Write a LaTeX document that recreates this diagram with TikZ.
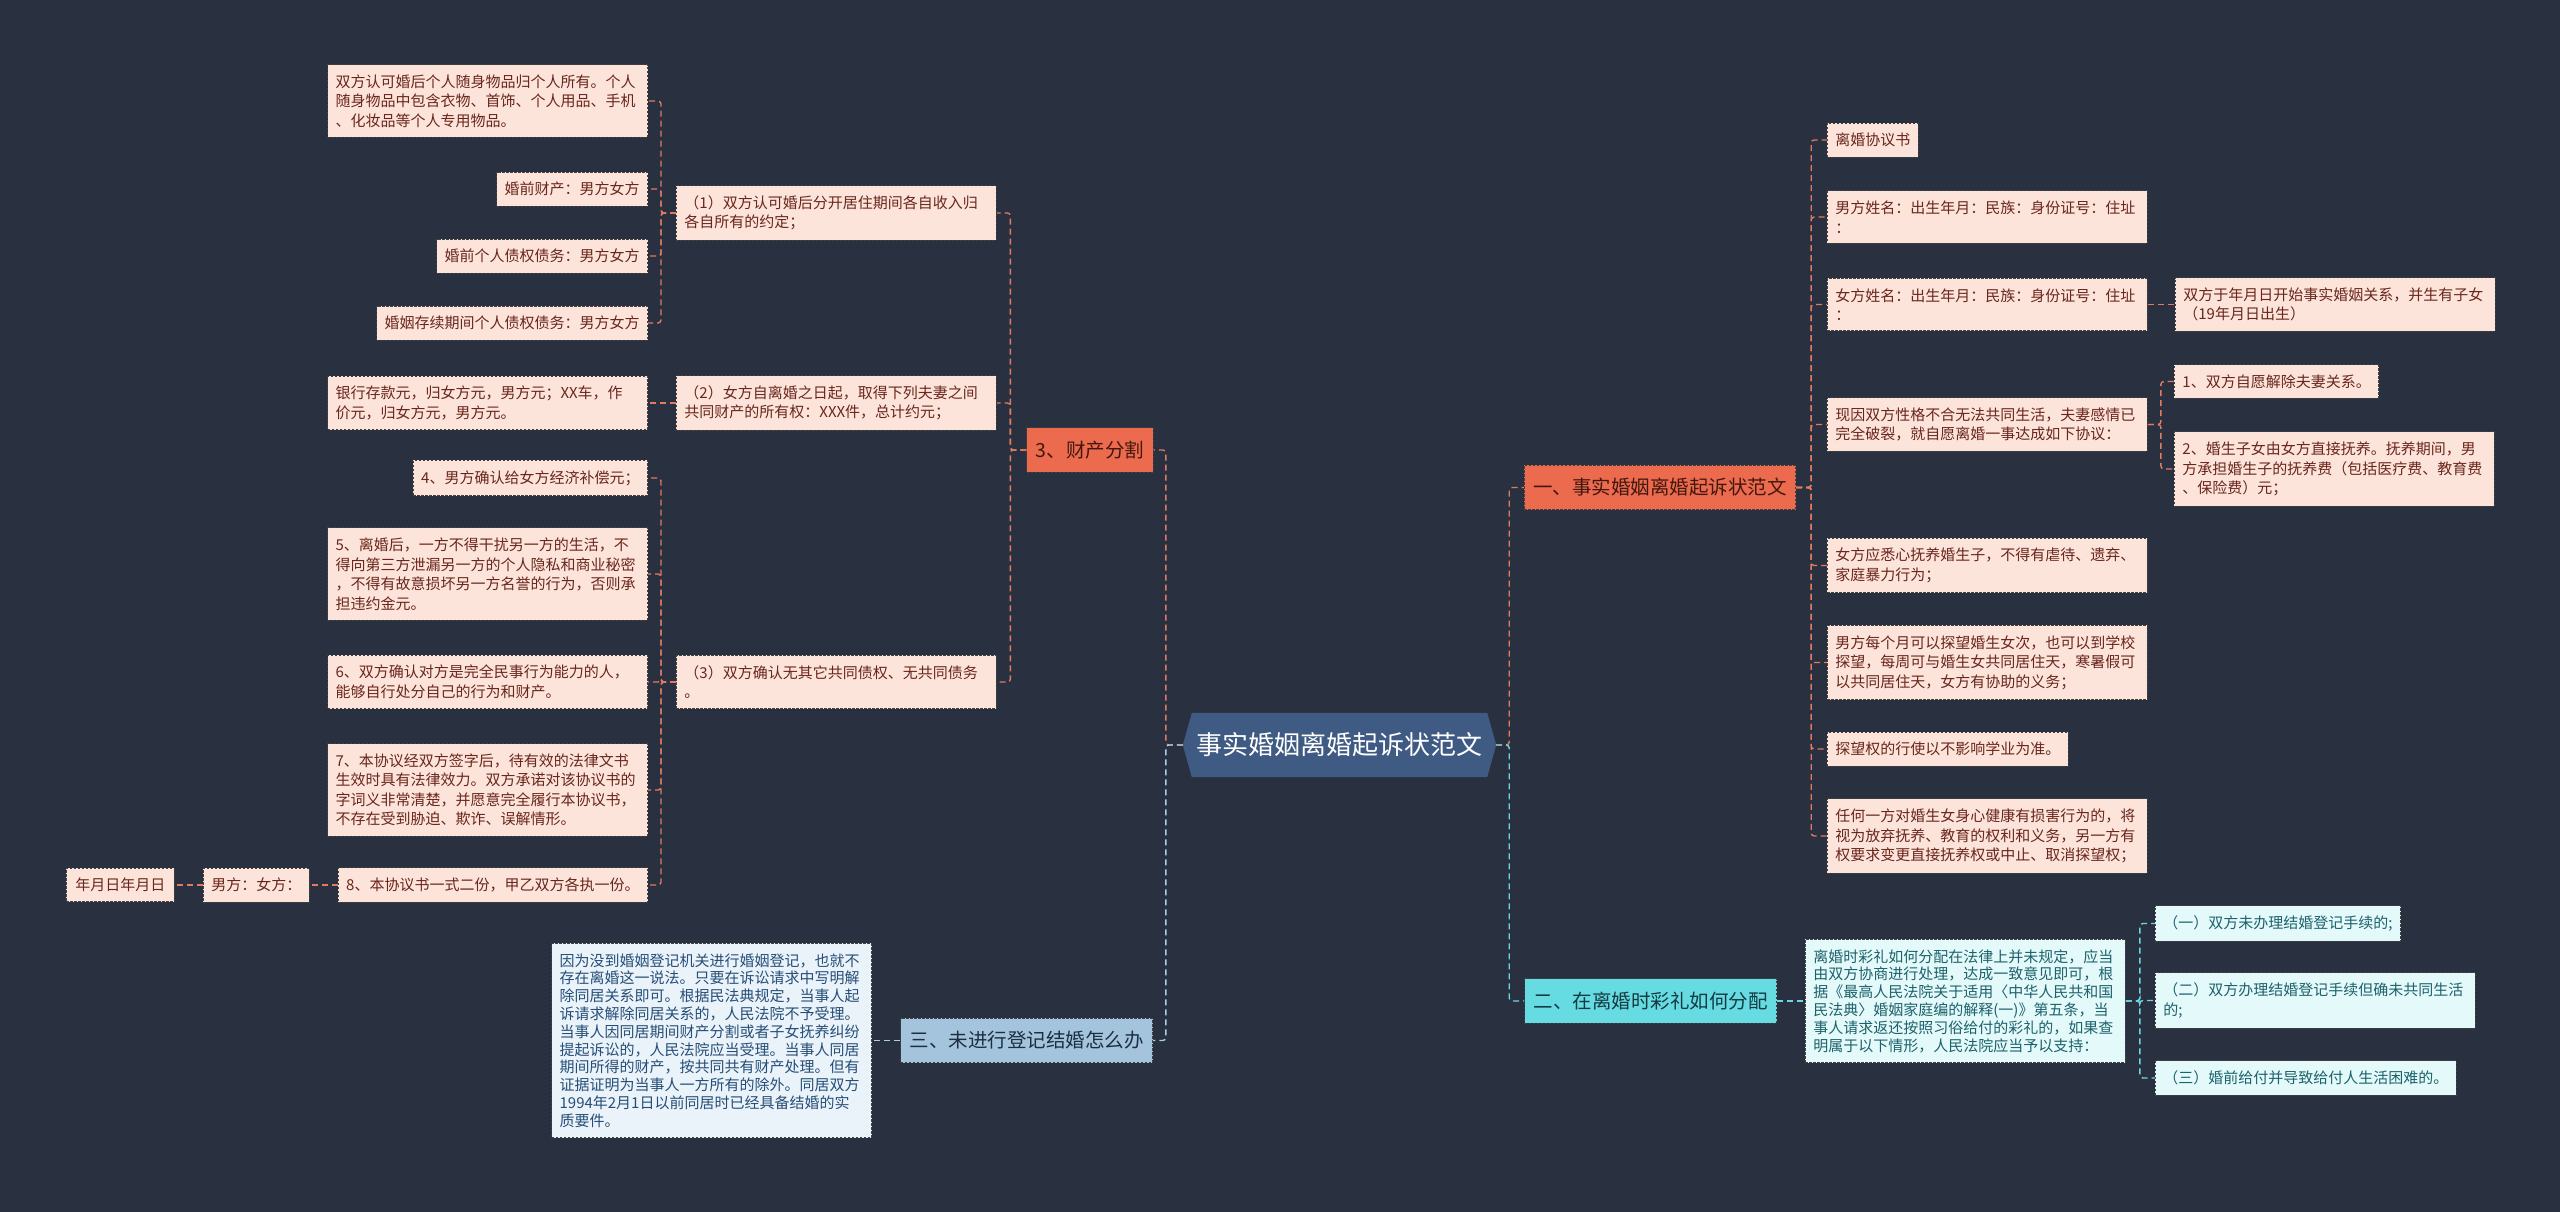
\documentclass[tikz,border=0pt]{standalone}
\usepackage{fontspec}
\setmainfont{Noto Sans CJK SC}
\usetikzlibrary{positioning,backgrounds}

\definecolor{bgnavy}{RGB}{41,49,65}
\definecolor{rootblue}{RGB}{63,91,131}
\definecolor{orfill}{RGB}{236,106,78}
\definecolor{orleaf}{RGB}{253,228,219}
\definecolor{ortext}{RGB}{105,38,28}
\definecolor{orhead}{RGB}{66,24,14}
\definecolor{orline}{RGB}{226,122,96}
\definecolor{cyfill}{RGB}{102,219,226}
\definecolor{cyleaf}{RGB}{228,249,249}
\definecolor{cytext}{RGB}{28,98,108}
\definecolor{cyhead}{RGB}{20,58,66}
\definecolor{cyline}{RGB}{108,214,228}
\definecolor{blfill}{RGB}{163,196,220}
\definecolor{blleaf}{RGB}{234,243,250}
\definecolor{bltext}{RGB}{38,78,118}
\definecolor{blhead}{RGB}{28,46,66}
\definecolor{blline}{RGB}{168,206,232}

\tikzset{
  box/.style={draw=black!75, line width=0.9pt, dash pattern=on 2.5pt off 1.5pt,
    inner xsep=8pt, inner ysep=10pt, align=left,
    font=\fontsize{15}{19.5}\selectfont},
  wide/.style={text width=304pt},
  orleafbox/.style={box, fill=orleaf, text=ortext},
  cyleafbox/.style={box, fill=cyleaf, text=cytext, font=\fontsize{15}{17.8}\selectfont},
  blleafbox/.style={box, fill=blleaf, text=bltext, font=\fontsize{15}{17.8}\selectfont},
  branch/.style={draw=black!75, line width=0.9pt, dash pattern=on 2.5pt off 1.5pt,
    inner xsep=9pt, inner ysep=13pt, font=\fontsize{19.5}{23}\selectfont},
  link/.style={line width=1.4pt, dash pattern=on 6pt off 4pt, rounded corners=3pt},
  orlink/.style={link, draw=orline},
  cylink/.style={link, draw=cyline},
  bllink/.style={link, draw=blline}
}

\begin{document}
\begin{tikzpicture}[x=1pt, y=-1pt]
\useasboundingbox (0,0) rectangle (2560,1212);

% root
\node[minimum width=295pt, minimum height=64pt, inner sep=0pt, text=white,
      font=\fontsize{26}{30}\selectfont] (ctr) at (1339.5,745) {事实婚姻离婚起诉状范文};

\begin{scope}[on background layer]
  \fill[bgnavy] (0,0) rectangle (2560,1212);
  \fill[rootblue] (ctr.north west) -- (ctr.north east) -- ([xshift=9pt]ctr.east)
    -- (ctr.south east) -- (ctr.south west) -- ([xshift=-9pt]ctr.west) -- cycle;
\end{scope}

% main branches
\node[branch, fill=orfill, text=orhead] (prop) at (1090,450) {3、财产分割};
\node[branch, fill=blfill, text=blhead] (unreg) at (1026.5,1040.5) {三、未进行登记结婚怎么办};
\node[branch, fill=orfill, text=orhead] (suit) at (1660,487.5) {一、事实婚姻离婚起诉状范文};
\node[branch, fill=cyfill, text=cyhead] (gift) at (1650.5,1001) {二、在离婚时彩礼如何分配};

% 3、财产分割
\node[orleafbox, wide, anchor=west] (agr1) at (676,213)
  {（1）双方认可婚后分开居住期间各自收入归\\各自所有的约定；};
\node[orleafbox, wide, anchor=west] (agr2) at (676,403)
  {（2）女方自离婚之日起，取得下列夫妻之间\\共同财产的所有权：XXX件，总计约元；};
\node[orleafbox, wide, anchor=west] (agr3) at (676,682)
  {（3）双方确认无其它共同债权、无共同债务\\。};

\node[orleafbox, wide, anchor=east] (own) at (648,101)
  {双方认可婚后个人随身物品归个人所有。个人\\随身物品中包含衣物、首饰、个人用品、手机\\、化妆品等个人专用物品。};
\node[orleafbox, anchor=east] (pre) at (648,189) {婚前财产：男方女方};
\node[orleafbox, anchor=east] (predebt) at (648,256) {婚前个人债权债务：男方女方};
\node[orleafbox, anchor=east] (mardebt) at (648,323) {婚姻存续期间个人债权债务：男方女方};
\node[orleafbox, wide, anchor=east] (bank) at (648,403)
  {银行存款元，归女方元，男方元；XX车，作\\价元，归女方元，男方元。};
\node[orleafbox, anchor=east] (item4) at (648,478) {4、男方确认给女方经济补偿元；};
\node[orleafbox, wide, anchor=east] (item5) at (648,574)
  {5、离婚后，一方不得干扰另一方的生活，不\\得向第三方泄漏另一方的个人隐私和商业秘密\\，不得有故意损坏另一方名誉的行为，否则承\\担违约金元。};
\node[orleafbox, wide, anchor=east] (item6) at (648,682)
  {6、双方确认对方是完全民事行为能力的人，\\能够自行处分自己的行为和财产。};
\node[orleafbox, wide, anchor=east] (item7) at (648,790)
  {7、本协议经双方签字后，待有效的法律文书\\生效时具有法律效力。双方承诺对该协议书的\\字词义非常清楚，并愿意完全履行本协议书，\\不存在受到胁迫、欺诈、误解情形。};
\node[orleafbox, anchor=east] (item8) at (648,885)
  {8、本协议书一式二份，甲乙双方各执一份。};
\node[orleafbox, left=28pt of item8] (sign) {男方：女方：};
\node[orleafbox, left=28pt of sign, inner xsep=9pt] (date) {年月日年月日};

% 三、未进行登记结婚怎么办
\node[blleafbox, wide, left=28pt of unreg] (cohab)
  {因为没到婚姻登记机关进行婚姻登记，也就不\\存在离婚这一说法。只要在诉讼请求中写明解\\除同居关系即可。根据民法典规定，当事人起\\诉请求解除同居关系的，人民法院不予受理。\\当事人因同居期间财产分割或者子女抚养纠纷\\提起诉讼的，人民法院应当受理。当事人同居\\期间所得的财产，按共同共有财产处理。但有\\证据证明为当事人一方所有的除外。同居双方\\1994年2月1日以前同居时已经具备结婚的实\\质要件。};

% 一、事实婚姻离婚起诉状范文
\node[orleafbox, anchor=west] (title) at (1827,140) {离婚协议书};
\node[orleafbox, wide, anchor=west] (man) at (1827,217)
  {男方姓名：出生年月：民族：身份证号：住址\\：};
\node[orleafbox, wide, anchor=west] (woman) at (1827,304.5)
  {女方姓名：出生年月：民族：身份证号：住址\\：};
\node[orleafbox, wide, right=27pt of woman] (since)
  {双方于年月日开始事实婚姻关系，并生有子女\\（19年月日出生）};
\node[orleafbox, wide, anchor=west] (reason) at (1827,424.5)
  {现因双方性格不合无法共同生活，夫妻感情已\\完全破裂，就自愿离婚一事达成如下协议：};
\node[orleafbox, anchor=west] (dissolve) at (2174,381.5) {1、双方自愿解除夫妻关系。};
\node[orleafbox, wide, anchor=west] (custody) at (2174,469)
  {2、婚生子女由女方直接抚养。抚养期间，男\\方承担婚生子的抚养费（包括医疗费、教育费\\、保险费）元；};
\node[orleafbox, wide, anchor=west] (care) at (1827,565.5)
  {女方应悉心抚养婚生子，不得有虐待、遗弃、\\家庭暴力行为；};
\node[orleafbox, wide, anchor=west] (visit) at (1827,662.5)
  {男方每个月可以探望婚生女次，也可以到学校\\探望，每周可与婚生女共同居住天，寒暑假可\\以共同居住天，女方有协助的义务；};
\node[orleafbox, anchor=west] (study) at (1827,749) {探望权的行使以不影响学业为准。};
\node[orleafbox, wide, anchor=west] (harm) at (1827,836)
  {任何一方对婚生女身心健康有损害行为的，将\\视为放弃抚养、教育的权利和义务，另一方有\\权要求变更直接抚养权或中止、取消探望权；};

% 二、在离婚时彩礼如何分配
\node[cyleafbox, wide, right=28pt of gift] (giftlaw)
  {离婚时彩礼如何分配在法律上并未规定，应当\\由双方协商进行处理，达成一致意见即可，根\\据《最高人民法院关于适用〈中华人民共和国\\民法典〉婚姻家庭编的解释(一)》第五条，当\\事人请求返还按照习俗给付的彩礼的，如果查\\明属于以下情形，人民法院应当予以支持：};
\node[cyleafbox, font=\fontsize{15}{19.5}\selectfont, anchor=west] (case1) at (2155,923.5)
  {（一）双方未办理结婚登记手续的;};
\node[cyleafbox, wide, font=\fontsize{15}{19.5}\selectfont, anchor=west] (case2) at (2155,1000.5)
  {（二）双方办理结婚登记手续但确未共同生活\\的;};
\node[cyleafbox, font=\fontsize{15}{19.5}\selectfont, anchor=west] (case3) at (2155,1078)
  {（三）婚前给付并导致给付人生活困难的。};

% connectors
\draw[orlink] ([xshift=-9pt]ctr.west) -- ++(-17,0) |- (prop.east);
\draw[bllink] ([xshift=-9pt]ctr.west) -- ++(-17,0) |- (unreg.east);
\draw[orlink] ([xshift=9pt]ctr.east) -- ++(13,0) |- (suit.west);
\draw[cylink] ([xshift=9pt]ctr.east) -- ++(13,0) |- (gift.west);

\foreach \m in {agr1,agr2,agr3}
  \draw[orlink] (prop.west) -- ++(-16,0) |- (\m.east);
\foreach \l in {own,pre,predebt,mardebt}
  \draw[orlink] (agr1.west) -- ++(-15,0) |- (\l.east);
\draw[orlink] (agr2.west) -- (bank.east);
\foreach \l in {item4,item5,item6,item7,item8}
  \draw[orlink] (agr3.west) -- ++(-15,0) |- (\l.east);
\draw[orlink] (item8.west) -- (sign.east);
\draw[orlink] (sign.west) -- (date.east);

\draw[bllink] (unreg.west) -- (cohab.east);

\foreach \r in {title,man,woman,reason,care,visit,study,harm}
  \draw[orlink] (suit.east) -- ++(15,0) |- (\r.west);
\draw[orlink] (woman.east) -- (since.west);
\foreach \r in {dissolve,custody}
  \draw[orlink] (reason.east) -- ++(13,0) |- (\r.west);

\draw[cylink] (gift.east) -- (giftlaw.west);
\foreach \r in {case1,case2,case3}
  \draw[cylink] (giftlaw.east) -- ++(14,0) |- (\r.west);

\end{tikzpicture}
\end{document}
